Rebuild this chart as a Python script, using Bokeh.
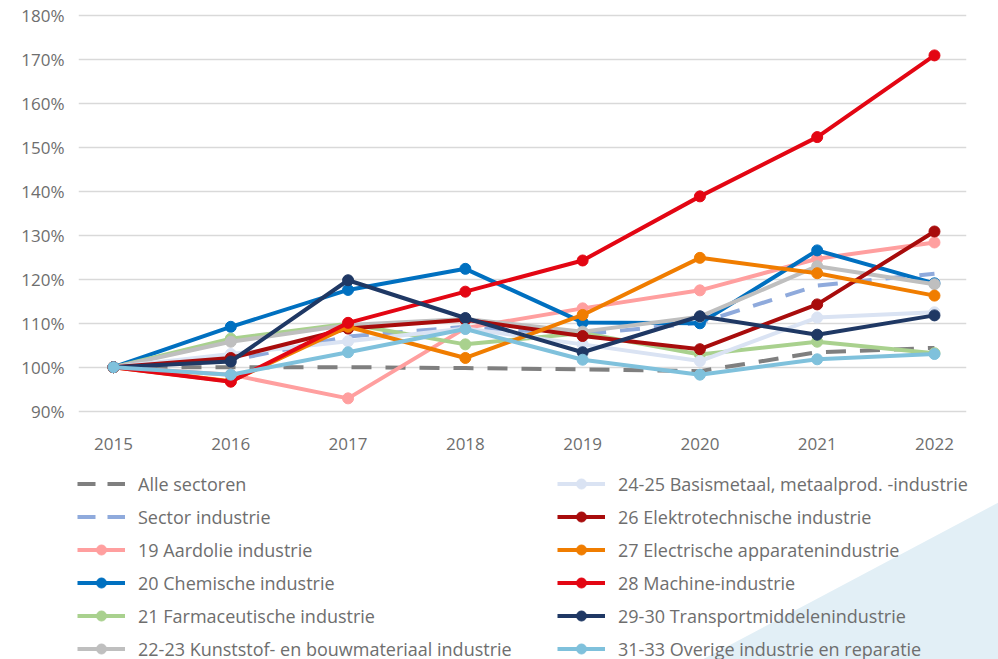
from bokeh.plotting import figure
from bokeh.layouts import column, row
from bokeh.models import (Range1d, FixedTicker, PrintfTickFormatter, Legend, LegendItem)
from bokeh.embed import file_html
from bokeh.resources import INLINE

years = [2015, 2016, 2017, 2018, 2019, 2020, 2021, 2022]

alle_sectoren = [100, 100.0, 100.0, 99.8, 99.5, 99.1, 103.4, 104.4]
sector_industrie = [100, 101.5, 107.0, 109.2, 107.5, 110.1, 118.6, 121.3]
s19_aardolie = [100, 98.3, 92.9, 108.9, 113.4, 117.5, 124.7, 128.4]
s20_chemische = [100, 109.2, 117.6, 122.4, 110.2, 110.0, 126.6, 119.1]
s21_farmaceutische = [100, 106.5, 109.9, 105.2, 107.8, 102.9, 105.8, 103.2]
s22_kunststof = [100, 105.8, 109.6, 111.0, 108.1, 111.5, 123.0, 118.9]
s24_basismetaal = [100, 103.0, 105.9, 108.8, 105.2, 101.4, 111.3, 112.5]
s26_elektrotechnisch = [100, 102.1, 108.8, 110.8, 107.1, 104.1, 114.3, 130.9]
s27_electrische = [100, 96.8, 109.2, 102.1, 111.9, 124.9, 121.4, 116.3]
s28_machine = [100, 96.7, 110.1, 117.2, 124.3, 138.9, 152.4, 171.0]
s29_transport = [100, 101.3, 119.8, 111.2, 103.4, 111.6, 107.4, 111.8]
s31_overige = [100, 98.3, 103.4, 108.7, 101.7, 98.3, 101.8, 103.0]

y_ticks = [90, 100, 110, 120, 130, 140, 150, 160, 170, 180]

# decorative light-blue corner shape (legend panel pixel space)
corner_xs = [998, 998, 702]
corner_ys = [43, 200, 200]

series = [
    ("Alle sectoren", alle_sectoren, "#7f7f7f", True),
    ("Sector industrie", sector_industrie, "#8faadc", True),
    ("19 Aardolie industrie", s19_aardolie, "#ff9f9f", False),
    ("20 Chemische industrie", s20_chemische, "#0070c0", False),
    ("21 Farmaceutische industrie", s21_farmaceutische, "#a9d18e", False),
    ("22-23 Kunststof- en bouwmateriaal industrie", s22_kunststof, "#bfbfbf", False),
    ("24-25 Basismetaal, metaalprod. -industrie", s24_basismetaal, "#dae3f3", False),
    ("26 Elektrotechnische industrie", s26_elektrotechnisch, "#a80c0c", False),
    ("27 Electrische apparatenindustrie", s27_electrische, "#f07d00", False),
    ("28 Machine-industrie", s28_machine, "#e30613", False),
    ("29-30 Transportmiddelenindustrie", s29_transport, "#1f3864", False),
    ("31-33 Overige industrie en reparatie", s31_overige, "#7fc1dc", False),
]

FONT = "Open Sans"
TXT = "#6e6e6e"

p = figure(width=998, height=459, output_backend="svg", toolbar_location=None,
           x_range=Range1d(2014.7016, 2022.273), y_range=Range1d(89, 181),
           min_border_left=78, min_border_right=32, min_border_top=11, min_border_bottom=44)
p.outline_line_color = None
p.border_fill_color = "white"

p.xgrid.grid_line_color = None
p.ygrid.grid_line_color = "#d9d9d9"
p.ygrid.grid_line_width = 1.5
p.ygrid.ticker = FixedTicker(ticks=y_ticks)

p.yaxis.ticker = FixedTicker(ticks=y_ticks)
p.yaxis.formatter = PrintfTickFormatter(format="%d%%")
p.xaxis.ticker = FixedTicker(ticks=years)
p.xaxis.formatter = PrintfTickFormatter(format="%d")
for ax in (p.xaxis, p.yaxis):
    ax.axis_line_color = None
    ax.major_tick_line_color = None
    ax.minor_tick_line_color = None
    ax.major_label_text_font = FONT
    ax.major_label_text_font_size = "17px"
    ax.major_label_text_color = TXT
p.yaxis.major_label_standoff = 8
p.xaxis.major_label_standoff = 16

# legend panel
q = figure(width=998, height=200, output_backend="svg", toolbar_location=None,
           x_range=Range1d(0, 998), y_range=Range1d(200, 0),
           min_border_left=0, min_border_right=0, min_border_top=0, min_border_bottom=0)
q.axis.visible = False
q.grid.grid_line_color = None
q.outline_line_color = None
q.border_fill_color = "white"
q.patch(corner_xs, corner_ys, fill_color="#e2eff6", line_color=None)

items = []
for name, vals, color, dashed in series:
    if dashed:
        p.line(years, vals, line_color=color, line_width=4, line_dash="20 14")
        r = q.line(years, vals, line_color=color, line_width=4, line_dash="18 12")
        items.append(LegendItem(label=name, renderers=[r]))
    else:
        p.line(years, vals, line_color=color, line_width=4)
        p.scatter(years, vals, marker="circle", size=11, fill_color=color, line_color=color)
        r = q.line(years, vals, line_color=color, line_width=4)
        m = q.scatter(years, vals, marker="circle", size=11, fill_color=color, line_color=color)
        items.append(LegendItem(label=name, renderers=[r, m]))

def make_legend(its, x):
    lg = Legend(items=its, location=(x, -2), orientation="vertical")
    lg.label_text_font = FONT
    lg.label_text_font_size = "18px"
    lg.label_text_color = TXT
    lg.glyph_width = 48
    lg.glyph_height = 25
    lg.label_height = 25
    lg.label_standoff = 13
    lg.spacing = 8
    lg.padding = 0
    lg.margin = 0
    lg.border_line_color = None
    lg.background_fill_alpha = 0
    return lg

q.add_layout(make_legend(items[:6], 77))
q.add_layout(make_legend(items[6:], 557))

layout = column(row(p), row(q), spacing=0)
open("out.html", "w").write(file_html(layout, INLINE))
